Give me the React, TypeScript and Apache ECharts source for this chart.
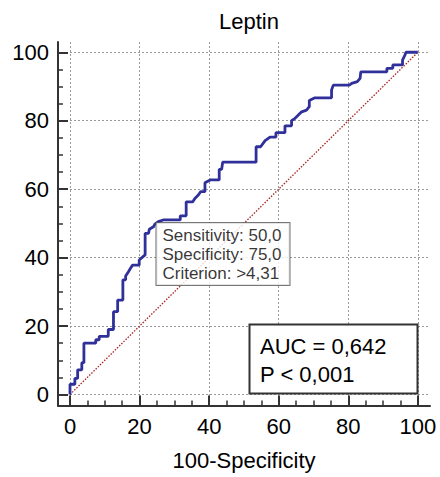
import React, { useEffect, useRef } from "react";
import * as echarts from "echarts";

const FONT = "'Liberation Sans', Arial, sans-serif";

const majorTicks = [0, 20, 40, 60, 80, 100];
const minorTicks = [5, 10, 15, 25, 30, 35, 45, 50, 55, 65, 70, 75, 85, 90, 95];

// 100 - Specificity (x) and Sensitivity (y) of the ROC curve
const fpr = [0, 0, 1.4, 1.4, 2.2, 2.2, 3.4, 3.4, 4, 4, 7.4, 7.4, 8.4, 8.4, 11, 11, 12.5, 12.5, 13.7, 13.7, 15.2, 15.2, 16, 16, 16.8, 17.4, 18, 19.9, 19.9, 21, 21.6, 21.6, 22.6, 22.8, 24, 24.4, 25.4, 26.8, 31.7, 31.7, 33.4, 33.4, 35.3, 35.9, 36.9, 37.6, 38.8, 38.8, 40.3, 42.9, 42.9, 43.6, 43.9, 53.5, 53.5, 54.8, 56.1, 57.5, 59.2, 59.2, 61.8, 61.8, 63.7, 63.7, 64.7, 66.6, 68, 68.8, 68.8, 70.4, 75.2, 75.2, 75.7, 80.3, 81, 82.6, 83.4, 83.6, 91.1, 91.1, 92.8, 92.8, 95.6, 95.6, 96.3, 96.6, 100];
const sens = [0, 3, 3, 4.7, 4.7, 7.2, 7.2, 9.3, 9.3, 15, 15, 16, 16, 17, 17, 19, 19, 24.2, 24.2, 27.6, 27.6, 33.5, 33.5, 34.6, 35.9, 36.9, 37.8, 37.8, 39.3, 40.3, 40.8, 47.1, 47.1, 48.3, 49, 49.8, 50.5, 51, 51, 52.2, 52.2, 56.3, 56.3, 57.3, 58.3, 59.3, 59.3, 61.9, 62.7, 62.7, 65.8, 65.8, 67.9, 67.9, 72.4, 72.4, 74.2, 75.2, 75.2, 76.5, 76.5, 78.5, 78.5, 80, 80.7, 82.6, 83.1, 84.1, 85.9, 86.7, 86.7, 89, 90.4, 90.4, 90.9, 91.4, 92.4, 94.3, 94.3, 95.3, 95.3, 96.3, 96.3, 97.7, 99.2, 100, 100];

const diagonal = [[0, 0], [100, 100]];
const criterionPoint = [25, 50];
const criterionText = ["Sensitivity: 50,0", "Specificity: 75,0", "Criterion: >4,31"];
const aucText = "AUC = 0,642";
const pText = "P < 0,001";

export default function App() {
  const ref = useRef<HTMLDivElement>(null);
  useEffect(() => {
    if (!ref.current) return;
    const chart = echarts.init(ref.current, null, { renderer: "svg" });
    const axisColor = "#333";
    const mkX = (major: boolean) => ({
      type: "value",
      position: "bottom",
      min: -3.45,
      max: 103.5,
      axisLine: { show: major, onZero: false, lineStyle: { color: axisColor, width: 2 } },
      axisTick: {
        show: true,
        inside: true,
        length: major ? 10 : 5,
        customValues: major ? majorTicks : minorTicks,
        lineStyle: { color: axisColor, width: major ? 2 : 1.5 },
      },
      axisLabel: {
        show: major,
        customValues: majorTicks,
        fontSize: 22,
        color: "#000",
        fontFamily: FONT,
        margin: 10,
      },
      splitLine: {
        show: major,
        lineStyle: { type: [2, 2], color: "#9a9a9a", width: 1 },
      },
      name: major ? "100-Specificity" : "",
      nameLocation: "middle",
      nameGap: 44,
      nameTextStyle: { fontSize: 22, color: "#000", fontFamily: FONT },
    });
    const mkY = (major: boolean) => ({
      type: "value",
      position: "left",
      min: -3.21,
      max: 103,
      axisLine: { show: major, onZero: false, lineStyle: { color: axisColor, width: 2 } },
      axisTick: {
        show: true,
        inside: true,
        length: major ? 10 : 5,
        customValues: major ? majorTicks : minorTicks,
        lineStyle: { color: axisColor, width: major ? 2 : 1.5 },
      },
      axisLabel: {
        show: major,
        customValues: majorTicks,
        fontSize: 22,
        color: "#000",
        fontFamily: FONT,
        margin: 9,
      },
      splitLine: {
        show: major,
        lineStyle: { type: [2, 2], color: "#9a9a9a", width: 1 },
      },
    });

    chart.setOption({
      animation: false,
      backgroundColor: "#fff",
      title: {
        text: "Leptin",
        left: 244,
        top: 5,
        textAlign: "center",
        textStyle: { fontSize: 22, fontWeight: "normal", color: "#000", fontFamily: FONT },
      },
      grid: { left: 58, right: 10, top: 42, bottom: 71.5, containLabel: false },
      xAxis: [mkX(true), mkX(false)],
      yAxis: [mkY(true), mkY(false)],
      series: [
        {
          type: "line",
          data: diagonal,
          symbol: "none",
          lineStyle: { color: "#a82020", width: 1.3, type: [1.5, 1.5] },
          z: 2,
          silent: true,
        },
        {
          type: "line",
          data: fpr.map((x, i) => [x, sens[i]]),
          symbol: "none",
          lineStyle: { color: "#30309a", width: 2.8 },
          z: 3,
          silent: true,
        },
        {
          type: "scatter",
          data: [criterionPoint],
          symbolSize: 1,
          itemStyle: { color: "rgba(0,0,0,0)" },
          z: 5,
          label: {
            show: true,
            position: [0, 0],
            formatter: criterionText.join("\n"),
            fontSize: 17,
            lineHeight: 19,
            color: "#000",
            fontFamily: FONT,
            backgroundColor: "#fff",
            borderColor: "#555",
            borderWidth: 1,
            padding: [3, 8, 2, 6],
          },
        },
      ],
      graphic: [
        {
          type: "rect",
          shape: { x: 249.5, y: 324.5, width: 168, height: 69 },
          style: { fill: "#fff", stroke: "#333", lineWidth: 2 },
          z: 10,
        },
        {
          type: "text",
          x: 260,
          y: 346.7,
          style: { text: aucText, font: `22px ${FONT}`, fill: "#000", verticalAlign: "middle", align: "left" },
          z: 11,
        },
        {
          type: "text",
          x: 260,
          y: 374.3,
          style: { text: pText, font: `22px ${FONT}`, fill: "#000", verticalAlign: "middle", align: "left" },
          z: 11,
        },
      ],
    });
    return () => chart.dispose();
  }, []);
  return (
    <div
      ref={ref}
      style={{ position: "fixed", left: 0, top: 0, width: 440, height: 477, background: "#fff" }}
    />
  );
}
